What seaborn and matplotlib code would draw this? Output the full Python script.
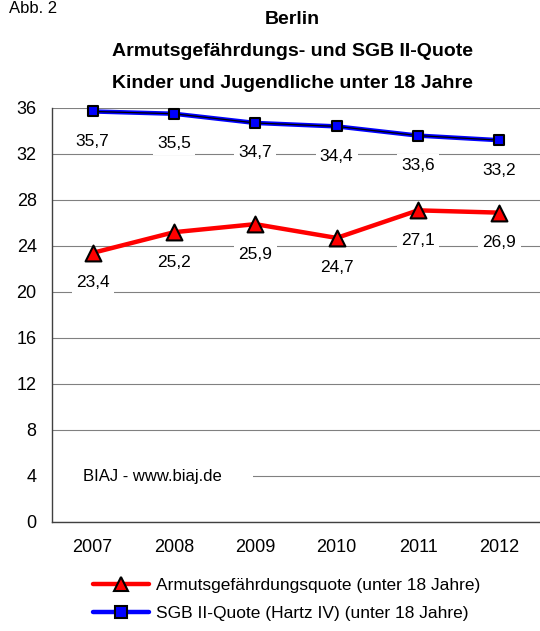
import matplotlib
matplotlib.use("Agg")
import matplotlib.pyplot as plt
import seaborn as sns
import pandas as pd
from matplotlib.lines import Line2D
from matplotlib.patches import Rectangle
import matplotlib.transforms as mtransforms

years = ["2007", "2008", "2009", "2010", "2011", "2012"]
armut = [23.4, 25.2, 25.9, 24.7, 27.1, 26.9]
sgb = [35.7, 35.5, 34.7, 34.4, 33.6, 33.2]
y_ticks = [0, 4, 8, 12, 16, 20, 24, 28, 32, 36]
label_armut = "Armutsgefährdungsquote (unter 18 Jahre)"
label_sgb = "SGB II-Quote (Hartz IV) (unter 18 Jahre)"
title_lines = ["Berlin", "Armutsgefährdungs- und SGB II-Quote",
               "Kinder und Jugendliche unter 18 Jahre"]
fig_label = "Abb. 2"
source_text = "BIAJ - www.biaj.de"

df = pd.DataFrame({"Jahr": years, "Armut": armut, "SGB": sgb})

sns.set_style("white")
plt.rcParams["font.family"] = ["Liberation Sans", "DejaVu Sans"]
plt.rcParams["text.color"] = "black"
plt.rcParams["axes.labelcolor"] = "black"
plt.rcParams["xtick.color"] = "black"
plt.rcParams["ytick.color"] = "black"

W, H = 540, 631
fig = plt.figure(figsize=(W / 100, H / 100), dpi=100)
ax = fig.add_axes([52 / W, (H - 522) / H, (W - 52) / W, (522 - 108) / H])

RED = "#FF0000"
BLUE = "#0000FF"

# SGB II line: blue thick with thin black centre line
sns.lineplot(data=df, x="Jahr", y="SGB", ax=ax, color=BLUE, lw=3.2,
             sort=False, zorder=4, clip_on=False)
sns.lineplot(data=df, x="Jahr", y="SGB", ax=ax, color="black", lw=0.9,
             sort=False, zorder=4.1, clip_on=False)
sns.scatterplot(data=df, x="Jahr", y="SGB", ax=ax, color=BLUE, marker="s",
                s=62, edgecolor="black", linewidth=1.5, zorder=5, clip_on=False)

# Armutsgefährdung line
sns.lineplot(data=df, x="Jahr", y="Armut", ax=ax, color=RED, lw=3.2,
             sort=False, zorder=4, clip_on=False)
sns.scatterplot(data=df, x="Jahr", y="Armut", ax=ax, color=RED, marker="^",
                s=130, edgecolor="black", linewidth=1.5, zorder=5, clip_on=False)

# data labels
for series in (armut, sgb):
    for i, v in enumerate(series):
        ax.annotate(f"{v:.1f}".replace(".", ","), xy=(i, v), xytext=(0, -21.5),
                    textcoords="offset points", ha="center", va="center",
                    fontsize=12.5, color="black",
                    bbox=dict(boxstyle="square,pad=0.25", fc="white", ec="none"),
                    zorder=3)

ax.set_xlim(-0.5, len(years) - 0.5)
ax.set_ylim(0, 36)
ax.set_yticks(y_ticks)
ax.set_yticklabels([str(t) for t in y_ticks])
ax.set_xticks(range(len(years)))
ax.set_xticklabels(years)
ax.set_xticks([i + 0.5 for i in range(len(years) - 1)], minor=True)
ax.set_xlabel("")
ax.set_ylabel("")

ax.set_axisbelow(True)
ax.yaxis.grid(True, color="#808080", lw=0.8)
ax.xaxis.grid(False)
for s in ("top", "right"):
    ax.spines[s].set_visible(False)
for s in ("left", "bottom"):
    ax.spines[s].set_color("#404040")
    ax.spines[s].set_linewidth(1.0)

ax.tick_params(axis="y", which="major", direction="in", length=4.5, width=0.9,
               color="#404040", labelcolor="black", pad=11, labelsize=13)
ax.tick_params(axis="x", which="major", length=0, pad=12, labelsize=13,
               labelcolor="black")
ax.tick_params(axis="x", which="minor", direction="in", length=5, width=0.9,
               color="#404040")

# source text with white background covering gridline
trans = mtransforms.blended_transform_factory(ax.transAxes, ax.transData)
ax.add_patch(Rectangle((0.003, 2.6), (253 - 53) / 488, 2.8, transform=trans,
                       fc="white", ec="none", zorder=1))
ax.text((83 - 52) / 488, 4, source_text, transform=trans, ha="left",
        va="center", fontsize=12, color="black", zorder=2)

# titles
ys = [20, 52, 83]
for t, yy in zip(title_lines, ys):
    fig.text(292 / W, 1 - yy / H, t, ha="center", va="center",
             fontsize=14, fontweight="bold", color="black")
fig.text(9 / W, 1 - 13 / H, fig_label, ha="left", va="baseline", fontsize=12,
         color="black")

# legend
handles = [
    Line2D([], [], color=RED, lw=3.2, marker="^", markersize=10,
           markerfacecolor=RED, markeredgecolor="black", markeredgewidth=1.5),
    Line2D([], [], color=BLUE, lw=3.2, marker="s", markersize=8,
           markerfacecolor=BLUE, markeredgecolor="black", markeredgewidth=1.5),
]
leg = fig.legend(handles, [label_armut, label_sgb], loc="upper left",
                 bbox_to_anchor=(93 / W, 1 - 578 / H), frameon=False,
                 fontsize=12.5, handlelength=3.2, handletextpad=0.45,
                 borderpad=0, borderaxespad=0, labelspacing=0.75)
for t in leg.get_texts():
    t.set_color("black")

fig.savefig("out.png", dpi=100)
